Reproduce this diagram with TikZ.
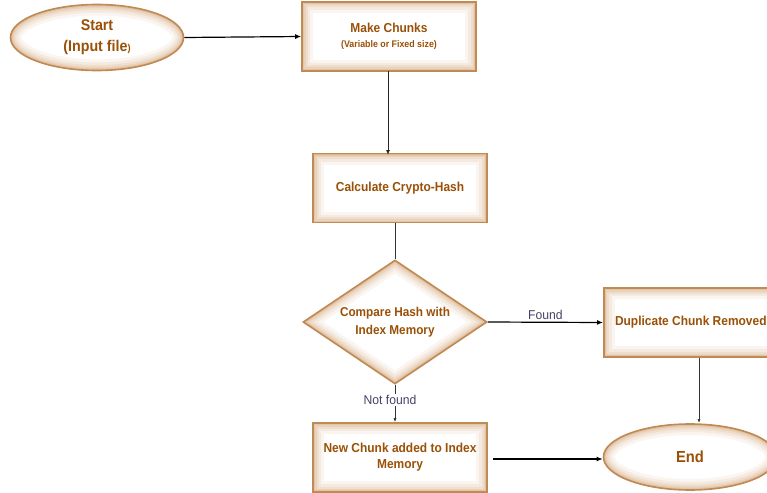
\documentclass[tikz,border=0pt]{standalone}
\usepackage{fontspec}
\setmainfont{Liberation Sans}[BoldFeatures={FakeStretch=0.92},UprightFeatures={FakeStretch=0.95}]
\usetikzlibrary{shapes.geometric,arrows.meta}
\definecolor{edge}{HTML}{C08A55}
\definecolor{glow}{HTML}{D4A274}
\definecolor{txt}{HTML}{9A5006}
\definecolor{lbl}{HTML}{4A4068}
\newcommand{\glowlayers}[1]{%
  \foreach \w/\o in {22/0.10,16/0.13,11/0.16,7/0.20,4/0.26,2/0.35}{%
    \draw[glow,line width=\w pt,opacity=\o] #1;}}
\tikzset{
  x=1pt,y=-1pt,
  base/.style={draw=edge,line width=1.6pt,fill=white,inner sep=0pt,align=center,text=txt,
    font=\bfseries\fontsize{13}{16}\selectfont},
  boxnode/.style={base,rectangle,minimum width=174pt,minimum height=69pt,
    path picture={\glowlayers{(path picture bounding box.north west) rectangle (path picture bounding box.south east)}}},
  ovalnode/.style={base,ellipse,minimum width=173pt,minimum height=66pt,
    path picture={\glowlayers{(path picture bounding box.center) ellipse [x radius=86.5pt,y radius=33pt]}}},
  dianode/.style={base,diamond,shape aspect=1.48,minimum width=184pt,minimum height=124pt,
    font=\bfseries\fontsize{12.8}{17.5}\selectfont,
    path picture={\glowlayers{(path picture bounding box.north) -- (path picture bounding box.east) -- (path picture bounding box.south) -- (path picture bounding box.west) -- cycle}}},
  arr/.style={-{Latex[length=6pt,width=5pt]},line width=1.2pt,black},
  thin/.style={line width=0.7pt,black!80},
  lab/.style={text=lbl,font=\fontsize{12.8}{15}\selectfont,inner sep=1pt}
}
\begin{document}
\begin{tikzpicture}
\useasboundingbox (0,0) rectangle (767,492);
\node[ovalnode,font=\bfseries\fontsize{15.5}{21}\selectfont] (start) at (97,37.5) {Start\\(Input file{\fontsize{10}{12}\selectfont)}};
\node[boxnode] (make) at (389,36.5) {Make Chunks\\[-1pt]{\fontsize{9.6}{14}\selectfont(Variable or Fixed size)}};
\node[boxnode] (calc) at (400,188) {Calculate Crypto-Hash};
\node[dianode] (cmp) at (395,322) {Compare Hash with\\Index Memory};
\node[boxnode,anchor=west] (dup) at (603,322.5) {Duplicate Chunk Removed};
\node[boxnode] (new) at (400,457.5) {New Chunk added to Index\\Memory};
\node[ovalnode,font=\bfseries\fontsize{16}{18}\selectfont] (end) at (690,457) {End};
\draw[arr] (start.east) -- (make.west);
\draw[-{Latex[length=5pt,width=4pt]},line width=1pt,black!85] (388,71) -- (388,155);
\draw[thin] (395,222.5) -- (cmp.north);
\draw[arr] (cmp.east) -- node[lab,above=1pt] {Found} (dup.west);
\draw[thin,-{Latex[length=4pt,width=3pt]}] (cmp.south) -- (new.north -| cmp.south);
\node[lab,fill=white] (nf) at (390,400) {Not found};
\draw[thin,-{Latex[length=4pt,width=3pt]}] (dup.south -| 699,0) -- (699,423);
\draw[arr] (493,459) -- (end.west |- 0,459);
\end{tikzpicture}
\end{document}
